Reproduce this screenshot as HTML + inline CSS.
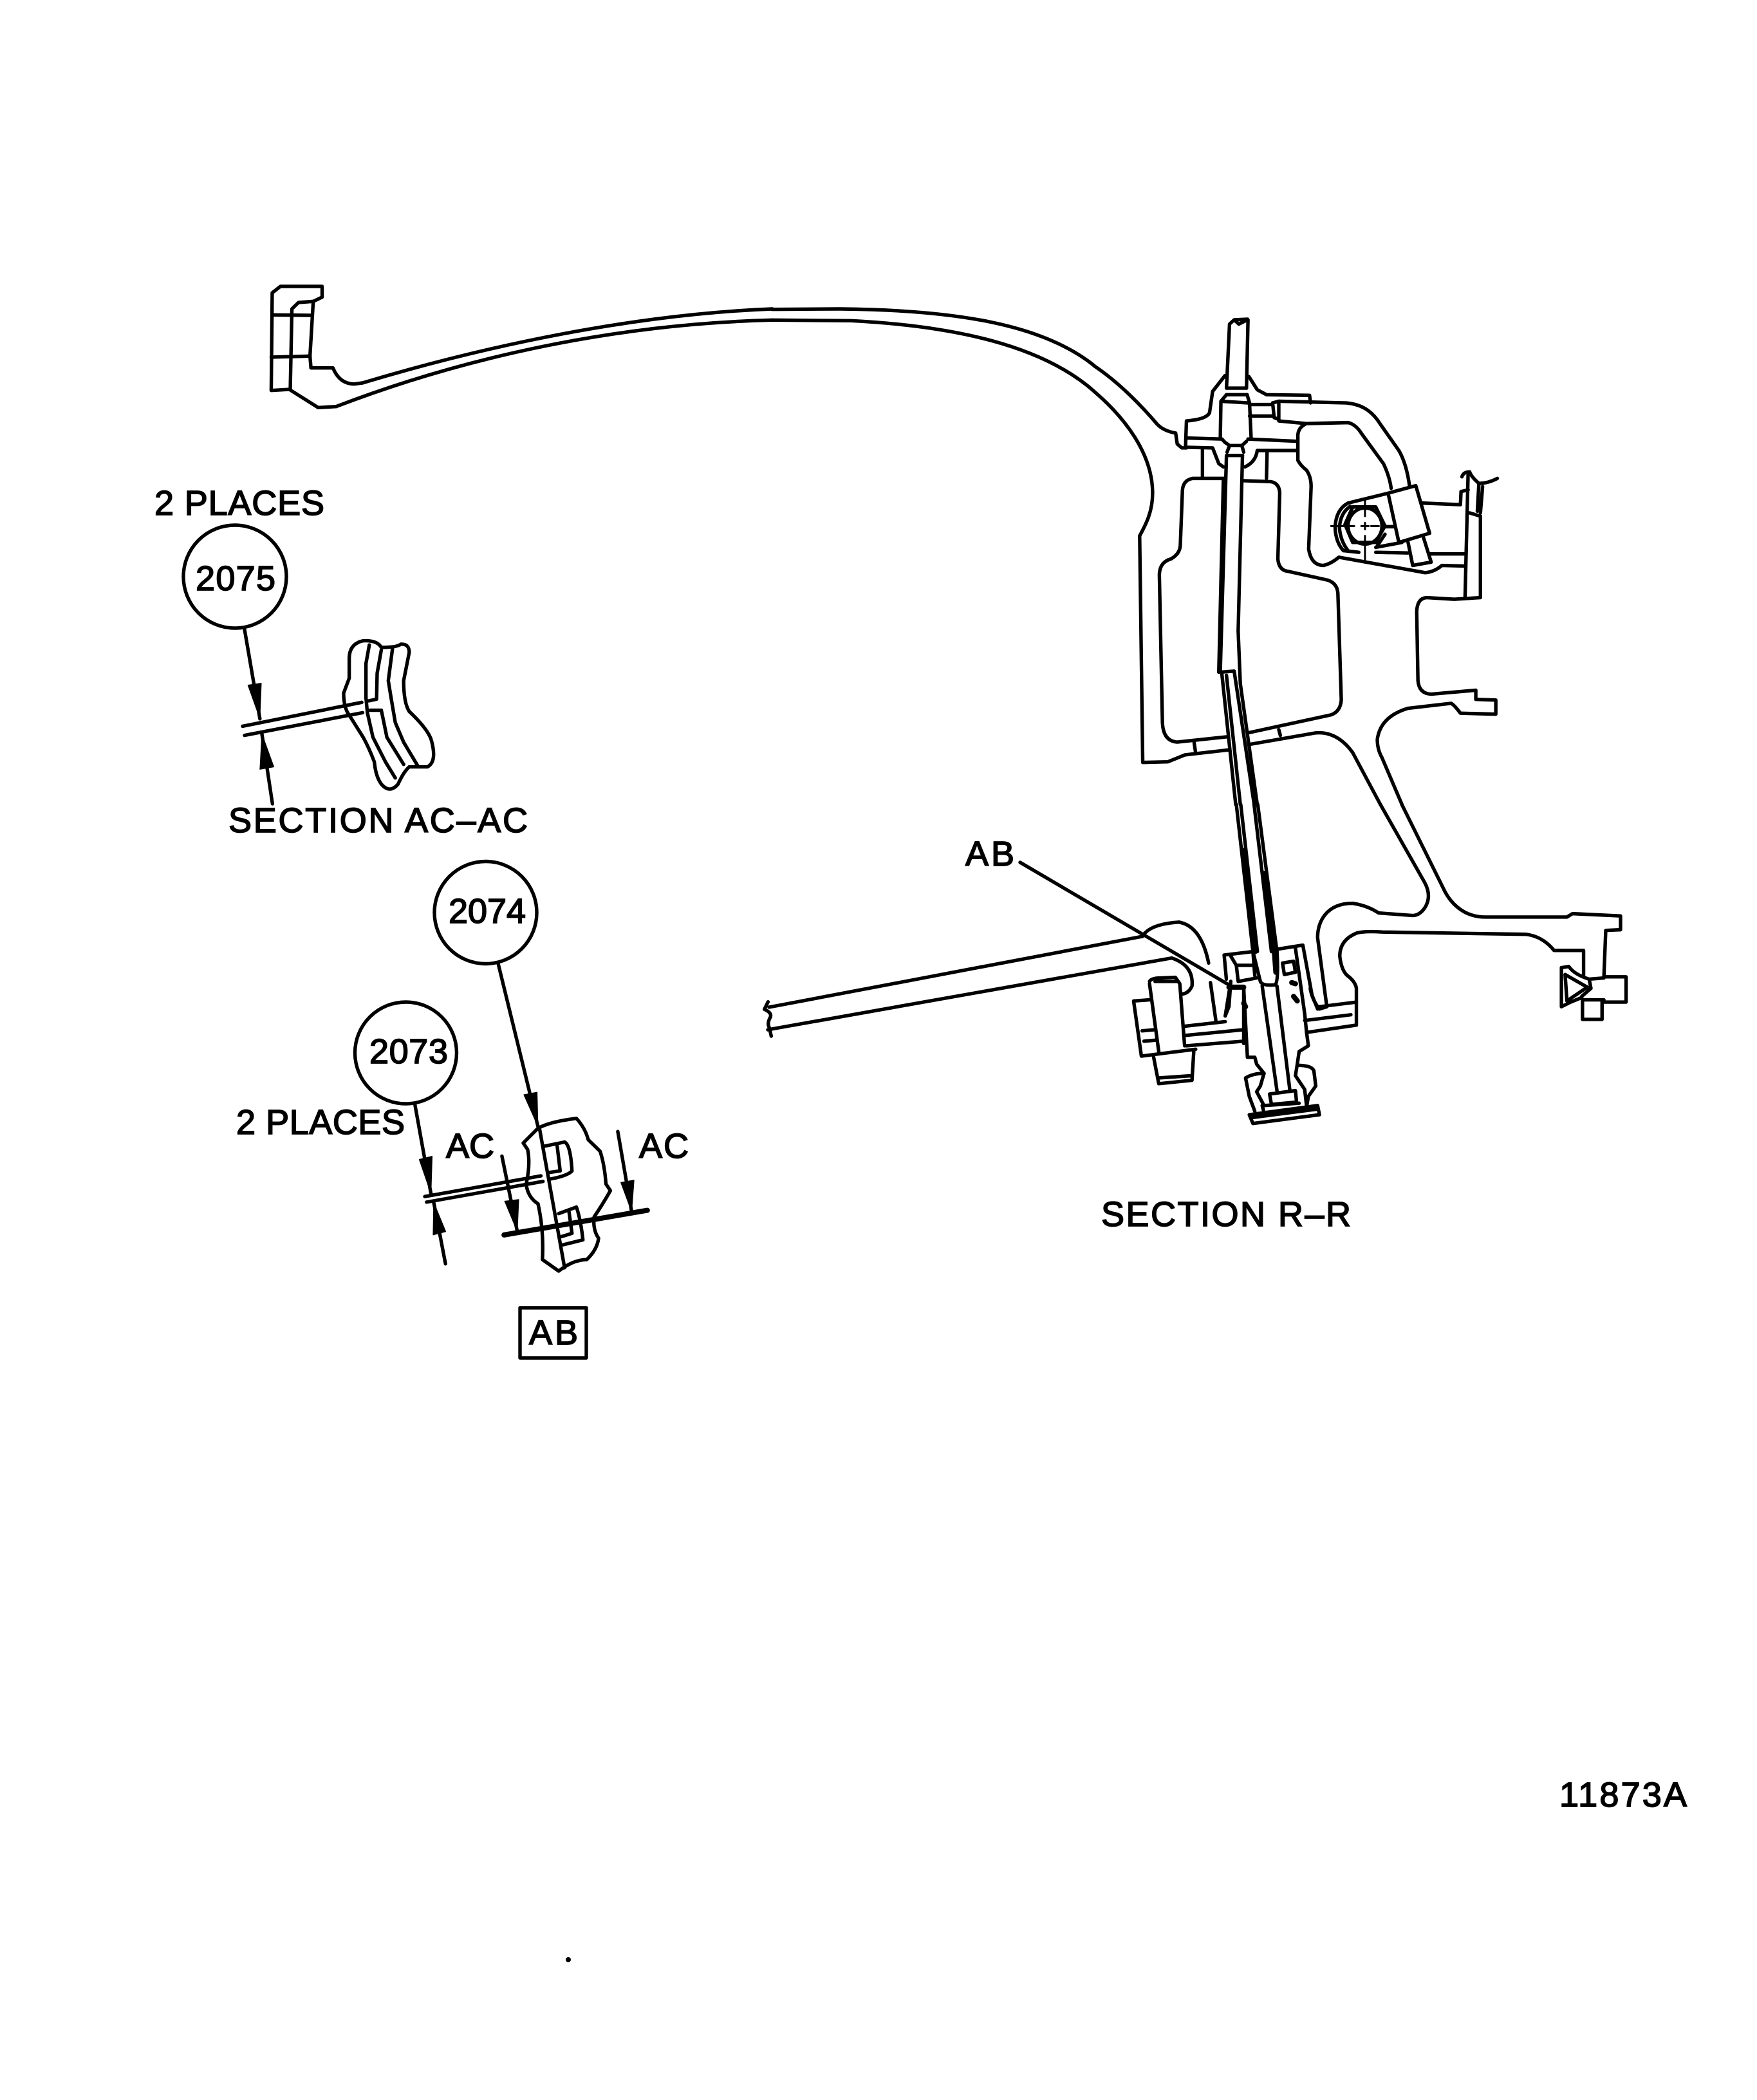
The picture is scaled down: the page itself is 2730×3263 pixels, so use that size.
<!DOCTYPE html>
<html><head><meta charset="utf-8"><style>
html,body{margin:0;padding:0;background:#fff}
svg{display:block}
path,circle,rect,polyline{fill:none;stroke:#000;stroke-width:5.4;stroke-linejoin:round;stroke-linecap:round;vector-effect:non-scaling-stroke}
.f{fill:#000;stroke:#000;stroke-width:1}
.t{stroke-width:8}
.n{stroke-width:3}
text{font-family:"Liberation Sans",sans-serif;font-size:54px;fill:#000;stroke:#000;stroke-width:1.7}
</style></head><body>
<svg width="2730" height="3263" viewBox="0 0 2730 3263" xmlns="http://www.w3.org/2000/svg">
<rect x="0" y="0" width="2730" height="3263" style="fill:#fff;stroke:none"/>

<!-- Z5 top-left flange -->
<g transform="translate(400 420) scale(.5102 .3333)">
<path d="M45,105 L70,75 L197,75 L197,125 L170,145 L125,150 L105,180 L100,555 L42,560 Z"/>
<path d="M170,145 L160,400 L163,455 L230,455 Q250,530 295,530 L320,525"/>
<path d="M100,558 L185,640 L240,635"/>
<path d="M45,208 L165,210 M42,405 L160,400"/>
<path d="M320,525 C700,350 1150,205 1568,180"/>
<path d="M240,635 C640,400 1100,250 1568,232"/>
</g>
<!-- Z6 arch -->
<g transform="translate(1180 460) scale(.3571 .3333)">
<path d="M56,62 L350,60 C850,65 1230,130 1456,324"/>
<path d="M56,112 L400,115 C850,140 1230,230 1456,444"/>
</g>
<!-- Strut -->
<path d="M1195,1565 L1775,1455 M1193,1600 L1820.5,1488.6"/>
<g transform="translate(1180 1440) scale(.3827 .3333)">
<path d="M35,350 L20,385 Q50,400 45,420 Q30,450 40,470 L48,510"/>
</g>

<!-- Z1 upper body -->
<g transform="translate(1700 450) scale(.4783 .5102)">
<path d="M0,232 Q100,295 205,410 Q225,430 265,437 L270,470 L285,482 L300,482"/>
<path d="M0,310 C100,390 190,500 190,620 C190,680 165,720 148,750 L158,1440 L240,1438 L295,1417 L435,1402"/>
<path d="M440,105 L430,300 M500,92 L495,300 M440,105 L455,92 L498,90 L500,100 M455,92 L470,105 L498,92"/>
<path d="M430,300 L495,300 M430,320 L497,320"/>
<path d="M425,262 L385,310 L375,375 Q365,395 300,400 L297,480"/>
<path d="M503,265 L530,305 L560,320 L700,322 L703,345"/>
<path d="M430,320 L412,340 L410,450 M497,320 L505,345 L510,450 M412,340 L500,345"/>
<path d="M505,350 L580,350 M505,385 L580,385 M580,345 L600,340 L600,395 L585,390 Z"/>
<path d="M600,340 L820,345 C880,350 910,380 930,410 L990,490 Q1015,530 1025,600"/>
<path d="M600,400 L690,408 L825,405 Q850,410 870,440 L940,530 Q960,570 965,605"/>
<path d="M690,408 Q660,420 662,450 L662,520 Q670,535 690,550 Q705,570 705,600 L697,790 Q705,840 745,840 Q770,835 795,815 L1075,862 Q1105,860 1130,840 L1205,842"/>
<path d="M300,452 L415,455 M500,455 L660,462 M297,480 L385,482 L405,530 L420,540 M530,490 L660,490 M530,490 Q525,525 490,540"/>
<path d="M352,482 L352,570 M562,490 L560,575"/>
<path d="M415,455 L425,465 L440,475 L480,475 L495,462 M440,475 L432,495 M480,475 L486,495"/>
<path d="M432,505 L482,505"/>
<path d="M430,505 L410,1160 M482,505 L468,1040 L475,1200 L530,1568" />
<path d="M420,575 L405,1165"/>
<path d="M410,1165 L455,1162 L520,1568 M415,1170 L460,1568 M430,1175 L475,1568"/>
<path d="M420,575 L320,575 Q290,580 287,610 L280,780 Q278,805 250,820 Q212,830 212,870 L222,1320 Q225,1375 270,1378 L430,1362"/>
<path d="M325,1380 L330,1412"/>
<path d="M487,582 L575,585 Q602,590 603,620 L597,820 Q600,855 630,858 L760,885 Q790,895 792,925 L803,1250 Q800,1285 770,1295 L500,1350"/>
<path d="M505,1385 L720,1350 Q790,1345 840,1410 L930,1568 M600,1340 L605,1358"/>
<path d="M1000,1568 L935,1425 Q920,1400 920,1370 Q930,1300 1020,1275 L1160,1260 Q1170,1265 1190,1290 L1305,1293 L1305,1250 L1240,1248 L1240,1220 L1095,1232 Q1055,1230 1052,1190 L1048,980 Q1050,940 1080,938 L1170,943 L1255,938 L1255,690 L1220,680"/>
<path d="M1215,560 L1205,940"/>
<path d="M1065,650 L1190,655 L1192,615 L1215,610 M1090,805 L1205,805"/>
<path d="M1195,570 Q1200,555 1220,555 Q1225,570 1250,590 Q1280,590 1310,575 M1250,590 L1245,675 M1262,600 L1255,680"/>
<path d="M955,620 L1045,597 L1090,742 L990,770 Z"/>
<path d="M1020,770 L1035,840 L1095,830 L1070,755"/>
<path d="M840,662 L915,662 L945,720 L915,770 L840,770 L815,715 Z"/>
<circle cx="880" cy="720" r="55"/>
<path d="M825,650 L955,620 M825,650 Q785,670 783,725 Q785,770 810,795 M832,660 Q800,680 797,725 Q800,765 825,795"/>
<path d="M915,785 L1000,770 M915,800 L1020,802 M945,722 L975,722 M945,745 L920,780 M810,795 L860,800"/>
<path class="n" d="M880,640 L880,690 M880,750 L880,830 M770,720 L845,720 M900,720 L925,720 M868,720 L892,720 M880,710 L880,730"/>
</g>

<!-- Z2 lower body -->
<g transform="translate(1700 1250) scale(.574 .3571)">
<path d="M385,0 L430,640 L450,770 Q455,790 490,785 Q500,770 495,640"/>
<path d="M397,0 L442,640"/>
<path d="M433,0 L480,640 M443,0 L495,640"/>
<path class="t" d="M405,200 L436,640 M461,300 L488,640 L492,730"/>
<path d="M775,0 L895,340 Q915,400 895,450 Q880,485 860,483 L770,472 Q740,440 700,430 Q650,430 625,480 Q605,520 605,580 L630,880 L610,890 Q590,850 585,800"/>
<path d="M833,0 L950,380 Q970,440 1005,470 Q1030,490 1060,490 L1280,490 L1295,475 L1425,485 L1425,545 L1385,548 L1380,750 L1440,750 L1440,860 L1375,860 L1375,935 L1322,935 L1322,850 L1380,850"/>
<path d="M665,660 Q665,590 710,560 Q730,550 780,555 L1170,565 Q1215,575 1245,635 L1325,635 L1325,745"/>
<path d="M665,660 Q670,730 690,750 Q708,775 710,800 L710,960 L575,992 M710,860 L610,880 M695,915 L570,940"/>
<path d="M1265,880 L1265,710 L1285,705 Q1300,740 1340,760 L1380,755 M1265,880 L1290,860 L1320,840 M1275,740 L1335,795 L1280,855 Z M1340,760 L1345,800 L1320,835"/>
<path d="M352,655 L430,640 M352,655 L358,760 M370,660 L385,700 L430,700 M385,700 L390,770 L440,755 M430,640 L435,745"/>
<path d="M495,630 L565,612 L590,830 L605,890 M545,625 L570,910 L575,990 L580,1050 L555,1075 L550,1130"/>
<path d="M510,690 L540,682 L545,730 L515,740 Z"/>
<path d="M370,770 L355,920 M405,800 L415,1100 L435,1100 L440,1130 L460,1170 L450,1225 L440,1250 L460,1310"/>
<path d="M550,1130 L545,1180 L570,1240 L575,1310"/>
<path d="M455,790 L495,1245 M495,790 L530,1245"/>
<path d="M475,1260 L545,1245 L548,1295 L480,1305 Z"/>
<path d="M460,1170 Q430,1170 410,1190 L420,1270 L435,1335 M550,1135 Q590,1135 595,1160 L600,1225 L580,1270 L575,1320"/>
<path d="M420,1350 L605,1310 L610,1350 L430,1388 Z M430,1362 L607,1325 M455,1310 L460,1340 M460,1310 L555,1300"/>
<path d="M150,770 Q155,755 180,755 L220,752 L232,780 L245,1050 M150,780 L175,1075 M165,770 L225,770"/>
<path d="M150,850 L107,855 L128,1095 L275,1065 M130,985 L165,980 M135,1030 L170,1025"/>
<path d="M160,1090 L175,1215 L265,1200 L270,1070 M175,1190 L265,1180"/>
<path d="M245,965 L355,945 M245,1005 L405,980 M250,1050 L405,1030 M405,800 L405,1040"/>
<path d="M315,775 L330,945 M355,920 L365,880 L370,770"/>
<path d="M130,575 Q150,520 230,512 Q290,530 310,690"/>
<path d="M210,668 Q270,700 265,790 Q255,825 235,825"/>
<path class="t" d="M365,795 L405,795 M535,775 L545,780 M540,835 L550,855 M405,865 L410,880"/>
</g>
<path d="M1585,1340 L1909,1530"/>

<!-- Z3 detail -->
<g transform="translate(200 740) scale(.4337 .3827)">
<path d="M415,622 L470,985 M408,1015 L835,918 M415,1052 L838,960 M515,1330 L477,1045"/>
<path class="f" d="M470,985 L427,848 L475,840 Z"/>
<path class="f" d="M477,1045 L470,1190 L520,1180 Z"/>
<path d="M790,740 Q790,680 840,668 Q890,665 905,695 Q960,695 975,682 Q1005,680 1005,715 L985,830 Q985,920 1005,955 Q1075,1030 1085,1075 Q1105,1160 1070,1180 L1005,1180 Q985,1200 965,1250 Q935,1290 905,1250 Q885,1220 880,1160 Q860,1100 840,1060 L790,970 Q770,940 770,880 L790,820 Z"/>
<path d="M862,685 L850,760 L850,900 L855,960 L875,1060 L920,1160 L955,1225"/>
<path d="M905,705 L890,800 L888,905 L860,912 M945,700 L930,830 L940,900 L955,1000 L985,1080 L1035,1175 M865,950 L905,950 L925,1060 L985,1170"/>
</g>
<circle cx="365" cy="896" r="80"/>

<!-- Z4 detail -->
<g transform="translate(340 1350) scale(.4592 .5102)">
<path d="M945,288 L1080,785 M663,715 L718,990 M697,998 L1090,935 M703,1015 L1097,952 M767,1203 L727,1015 M958,875 L1010,1105 M1350,800 L1397,1045"/>
<path class="f" d="M1080,785 L1032,688 L1077,680 Z"/>
<path class="f" d="M718,990 L678,885 L722,875 Z"/>
<path class="f" d="M727,1015 L725,1115 L768,1105 Z"/>
<path class="f" d="M1010,1105 L967,1012 L1015,1007 Z"/>
<path class="f" d="M1397,1045 L1360,955 L1405,948 Z"/>
<path class="t" d="M965,1115 L1450,1040"/>
<path d="M1080,790 Q1120,770 1210,760 Q1240,790 1250,825 L1290,860 Q1305,900 1310,960 L1325,980 Q1300,1020 1270,1060 Q1265,1100 1285,1125 Q1280,1160 1245,1190 Q1200,1190 1150,1225 L1095,1190 Q1100,1100 1080,1020 Q1045,1000 1040,960 Q1055,900 1045,855 L1030,835 Z"/>
<path d="M1085,790 L1170,1215"/>
<path d="M1100,845 L1170,832 Q1190,840 1195,920 Q1180,935 1120,945 M1145,845 L1155,920 L1115,925"/>
<path d="M1150,1050 L1210,1030 Q1225,1070 1232,1130 L1165,1145 M1185,1045 L1195,1110 L1160,1120"/>
</g>
<circle cx="754.5" cy="1418" r="79.5"/>
<circle cx="630.5" cy="1636" r="79"/>
<rect x="808" y="2032" width="103" height="78"/>

<text x="240" y="800" textLength="264">2 PLACES</text>
<text x="304" y="917" textLength="124">2075</text>
<text x="355" y="1293" textLength="465">SECTION AC–AC</text>
<text x="697" y="1434" textLength="120">2074</text>
<text x="574" y="1652" textLength="122">2073</text>
<text x="367" y="1762" textLength="262">2 PLACES</text>
<text x="693" y="1799" textLength="75">AC</text>
<text x="993" y="1799" textLength="77">AC</text>
<text x="822" y="2089" textLength="76">AB</text>
<text x="1500" y="1345" textLength="76">AB</text>
<text x="1711" y="1905" textLength="388">SECTION R–R</text>
<text x="2423" y="2807" textLength="198">11873A</text>

<circle cx="883" cy="3045" r="4" style="fill:#000;stroke:none"/>
</svg>
</body></html>
